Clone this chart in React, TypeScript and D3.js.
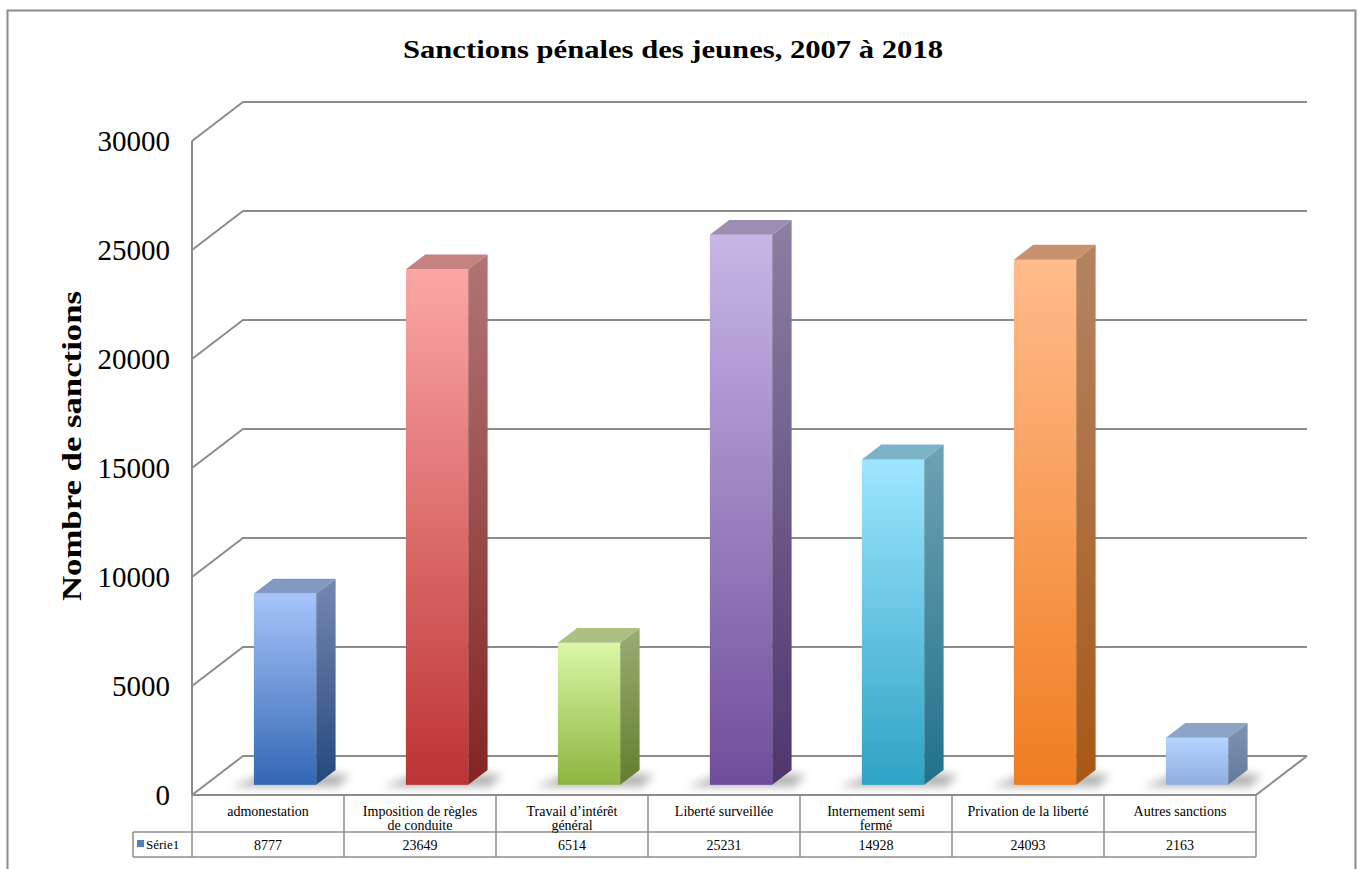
import React from 'react';
import * as d3 from 'd3';

const categories = [
  ['admonestation'],
  ['Imposition de règles', 'de conduite'],
  ['Travail d’intérêt', 'général'],
  ['Liberté surveillée'],
  ['Internement semi', 'fermé'],
  ['Privation de la liberté'],
  ['Autres sanctions'],
];
const values = [8777, 23649, 6514, 25231, 14928, 24093, 2163];
const yTicks = [0, 5000, 10000, 15000, 20000, 25000, 30000];
const seriesName = 'Série1';
// light (top) / dark (bottom) of each front face
const barColors = [
  ['#a7c4fa', '#3367b4'],
  ['#fba7a5', '#bd3334'],
  ['#dbf7a6', '#8db43f'],
  ['#c8b6e6', '#6f4d9b'],
  ['#9ee6ff', '#2ea3c4'],
  ['#ffbc8c', '#f07d20'],
  ['#b5d3ff', '#8faedf'],
];

const W = 1362;
const H = 869;
const left = 192;
const right = 1256;
const floorY = 795;
const depthX = 51;
const depthY = -39;
const f0 = 0.26; // front of bar, fraction of depth
const f1 = 0.64; // back of bar
const grid = '#8c8c8c';
const serif = '"Liberation Serif", "DejaVu Serif", serif';

export default function App() {
  const keys = categories.map((c) => c.join(' '));
  const x = d3.scaleBand<string>().domain(keys).range([left, right]);
  const y = d3.scaleLinear().domain([0, 30000]).range([floorY, 141]);
  const bw = x.bandwidth();

  const pts = (p: [number, number][]) => p.map((d) => d.join(',')).join(' ');

  return (
    <svg width={W} height={H} style={{ position: 'absolute', left: 0, top: 0, background: '#fff' }}>
      <defs>
        {barColors.map(([a, b], i) => {
          const sa = d3.color(a)!.darker(1).formatHex();
          const sb = d3.color(b)!.darker(1).formatHex();
          return (
            <React.Fragment key={i}>
              <linearGradient id={`front${i}`} x1="0" y1="0" x2="0" y2="1">
                <stop offset="0" stopColor={a} />
                <stop offset="1" stopColor={b} />
              </linearGradient>
              <linearGradient id={`side${i}`} x1="0" y1="0" x2="0" y2="1">
                <stop offset="0" stopColor={sa} />
                <stop offset="1" stopColor={sb} />
              </linearGradient>
            </React.Fragment>
          );
        })}
        <filter id="blur" x="-50%" y="-50%" width="200%" height="200%">
          <feGaussianBlur stdDeviation="4" />
        </filter>
      </defs>

      <rect x={7.5} y={10.5} width={1348} height={880} fill="none" stroke={grid} strokeWidth={2} />

      <text
        x={673}
        y={58}
        textAnchor="middle"
        fontFamily={serif}
        fontWeight="bold"
        fontSize={25}
        textLength={540}
        lengthAdjust="spacingAndGlyphs"
      >
        Sanctions pénales des jeunes, 2007 à 2018
      </text>

      {/* walls: gridlines on side wall and back wall */}
      {yTicks.map((t) => {
        const yf = y(t);
        return (
          <polyline
            key={t}
            points={pts([[left, yf], [left + depthX, yf + depthY], [right + depthX, yf + depthY]])}
            fill="none"
            stroke={grid}
            strokeWidth={2}
          />
        );
      })}
      <line x1={left} x2={left} y1={y(30000)} y2={floorY} stroke={grid} strokeWidth={2} />
      <line x1={right} y1={floorY} x2={right + depthX} y2={floorY + depthY} stroke={grid} strokeWidth={2} />

      {yTicks.map((t) => (
        <text key={t} x={170} y={y(t) + 10} textAnchor="end" fontFamily={serif} fontSize={29}>
          {t}
        </text>
      ))}

      <text
        transform={`translate(81,446) rotate(-90)`}
        textAnchor="middle"
        fontFamily={serif}
        fontWeight="bold"
        fontSize={28}
        textLength={310}
        lengthAdjust="spacingAndGlyphs"
      >
        Nombre de sanctions
      </text>

      {/* bars */}
      {values.map((v, i) => {
        const x0 = x(keys[i])! + bw * 0.32 + depthX * f0;
        const w = bw * 0.41;
        const y0 = floorY + depthY * f0;
        const yt = y(v) + depthY * f0;
        const dx = depthX * (f1 - f0);
        const dy = depthY * (f1 - f0);
        const top = d3.color(barColors[i][0])!.darker(0.7).formatHex();
        return (
          <g key={i}>
            <polygon
              points={pts([[x0 - 22, y0 + 2], [x0 + w + 22, y0 + 2], [x0 + w + dx + 14, y0 + dy + 4], [x0 + dx - 10, y0 + dy + 4]])}
              fill="#777"
              opacity={0.55}
              filter="url(#blur)"
            />
            <rect x={x0} y={yt} width={w} height={y0 - yt} fill={`url(#front${i})`} />
            <polygon
              points={pts([[x0 + w, yt], [x0 + w + dx, yt + dy], [x0 + w + dx, y0 + dy], [x0 + w, y0]])}
              fill={`url(#side${i})`}
            />
            <polygon
              points={pts([[x0, yt], [x0 + dx, yt + dy], [x0 + w + dx, yt + dy], [x0 + w, yt]])}
              fill={top}
            />
          </g>
        );
      })}

      {/* data table */}
      <g stroke={grid} strokeWidth={1.5} fill="none">
        <line x1={left} x2={right} y1={floorY} y2={floorY} strokeWidth={2} />
        <line x1={133} x2={right} y1={832} y2={832} />
        <line x1={133} x2={right} y1={857} y2={857} />
        <line x1={133} x2={133} y1={832} y2={857} />
        {keys.map((k) => (
          <line key={k} x1={x(k)} x2={x(k)} y1={floorY} y2={857} />
        ))}
        <line x1={right} x2={right} y1={floorY} y2={857} />
      </g>
      {categories.map((lines, i) => (
        <text key={i} textAnchor="middle" fontFamily={serif} fontSize={14}>
          {lines.map((l, j) => (
            <tspan key={j} x={x(keys[i])! + bw / 2} y={816 + j * 14}>
              {l}
            </tspan>
          ))}
        </text>
      ))}
      {values.map((v, i) => (
        <text key={i} x={x(keys[i])! + bw / 2} y={850} textAnchor="middle" fontFamily={serif} fontSize={14}>
          {v}
        </text>
      ))}
      <rect x={137} y={840} width={7} height={7} fill="#4f81bd" />
      <text x={146} y={849} fontFamily={serif} fontSize={13}>
        {seriesName}
      </text>
    </svg>
  );
}
